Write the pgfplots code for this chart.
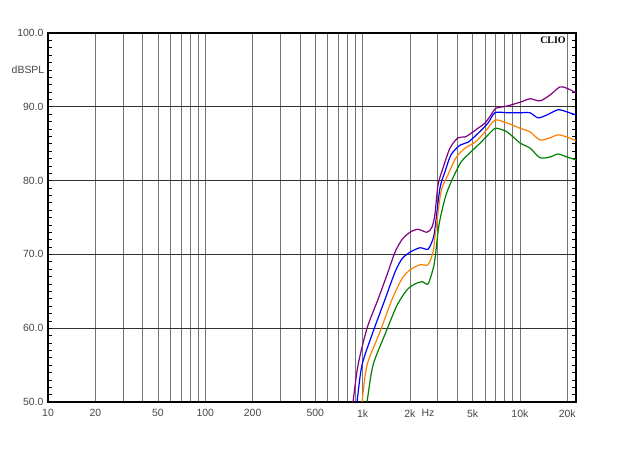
\documentclass[border=0pt]{standalone}
\usepackage{fontspec}
\setmainfont{Liberation Sans}
\newfontfamily\cliofont{Liberation Serif}
\usepackage{pgfplots}
\pgfplotsset{compat=1.18}
\definecolor{cpurple}{RGB}{128,0,128}
\definecolor{cblue}{RGB}{0,0,255}
\definecolor{corange}{RGB}{255,128,0}
\definecolor{cgreen}{RGB}{0,128,0}
\definecolor{labgray}{RGB}{70,70,70}
\begin{document}
\begin{tikzpicture}[x=1bp,y=1bp]
\path[use as bounding box] (0,0) rectangle (624,468);
\begin{axis}[
  at={(48bp,66bp)}, anchor=south west,
  scale only axis, width=528bp, height=369bp,
  xmode=log, xmin=10, xmax=22735, ymin=50, ymax=100,
  xtick={10,20,50,100,200,500,1000,2000,5000,10000,20000},
  xticklabels={10,20,50,100,200,500,1k,2k,5k,10k,20k},
  minor xtick={30,40,60,70,80,90,300,400,600,700,800,900,3000,4000,6000,7000,8000,9000},
  ytick={50,60,70,80,90,100},
  yticklabels={50.0,60.0,70.0,80.0,90.0,100.0},
  minor y tick num=9,
  xmajorgrids, xminorgrids, ymajorgrids,
  major x grid style={black!55, line width=0.8bp},
  minor x grid style={black!55, line width=0.8bp},
  major y grid style={black!80, line width=0.8bp},
  axis line style={line width=1.4bp, black},
  tick align=inside, tick pos=both,
  major tick length=4bp, minor tick length=4bp,
  x tick style={draw=none},
  y tick style={black, line width=0.6bp},
  /pgf/number format/assume math mode=true,
  tick label style={font=\fontsize{10.5}{12}\selectfont, text=labgray},
  xticklabel style={yshift=-4bp},
  yticklabel style={xshift=-1bp},
  clip=true,
]
\addplot[cpurple, line width=1.2bp, smooth, tension=0.45] coordinates {
(810,45) (869,50) (935,55) (1067,60) (1253,63.9) (1450,67.6) (1607,70.3) (1780,72.0) (2001,73.0) (2250,73.4) (2567,73.0) (2762,73.7) (2886,75.5) (3015,79.4) (3244,81.7) (3593,84.4) (4041,85.8) (4478,85.9) (4888,86.4) (5416,87.1) (5999,87.8) (6551,88.9) (7047,89.8) (8279,90.1) (10310,90.7) (11594,91.1) (13424,90.8) (15540,91.6) (17988,92.7) (19935,92.5) (22735,91.9)
};
\addplot[cblue, line width=1.2bp, smooth, tension=0.45] coordinates {
(855,45) (921,50) (991,55) (1165,59.5) (1388,63.9) (1607,67.6) (1780,69.4) (2001,70.3) (2317,70.9) (2605,70.7) (2803,72.1) (2886,73.5) (3105,79.0) (3340,81.2) (3648,83.5) (4161,84.8) (4679,85.2) (5416,86.4) (6268,87.8) (6945,89.2) (8279,89.2) (10310,89.2) (11594,89.2) (13035,88.5) (14875,88.9) (17470,89.6) (19935,89.3) (22735,88.9)
};
\addplot[corange, line width=1.2bp, smooth, tension=0.45] coordinates {
(920,45) (991,50) (1067,55) (1290,59.5) (1538,63.9) (1780,66.7) (2001,67.9) (2317,68.6) (2605,68.6) (2803,70.3) (2886,72.4) (3151,78.5) (3491,80.8) (3925,83.1) (4478,84.4) (5183,85.2) (5999,86.6) (6945,88.2) (8279,87.8) (10015,87.1) (11594,86.6) (13424,85.5) (15540,85.8) (17470,86.2) (19935,85.9) (22735,85.4)
};
\addplot[cgreen, line width=1.2bp, smooth, tension=0.45] coordinates {
(980,45) (1067,50) (1165,55) (1409,59.5) (1655,63.1) (1916,65.2) (2154,66.0) (2386,66.3) (2605,66.0) (2803,68.0) (2886,69.4) (3060,74.0) (3340,77.6) (3648,79.8) (4222,82.5) (4888,83.9) (5657,85.2) (6551,86.6) (7047,87.1) (8279,86.6) (10015,85.1) (11594,84.4) (13424,83.1) (15540,83.2) (17470,83.6) (19935,83.2) (22735,82.8)
};
\end{axis}
\node[font=\fontsize{10.5}{12}\selectfont, text=labgray] at (28,398) {dBSPL};
\node[font=\fontsize{10.5}{12}\selectfont, text=labgray] at (428,55) {Hz};
\node[font=\cliofont\bfseries\fontsize{10}{12}\selectfont] at (553,428) {CLIO};
\end{tikzpicture}
\end{document}
